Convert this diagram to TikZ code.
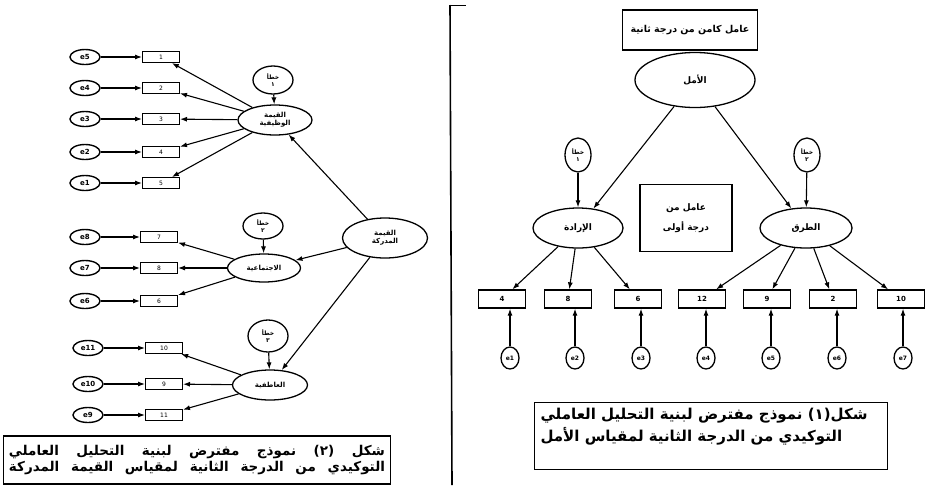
\documentclass[tikz,border=0pt]{standalone}
\usepackage{fontspec}
\setmainfont{DejaVu Sans}
\newfontfamily\arabicfont[Script=Arabic]{DejaVu Sans}
\TeXXeTstate=1
\usetikzlibrary{arrows.meta,shapes.geometric}

\newcommand{\artxt}[1]{{\arabicfont\bfseries\beginR #1\endR}}

\begin{document}
\begin{tikzpicture}[x=1pt,y=-1pt,
  err/.style={ellipse,draw,line width=1.4pt,minimum width=30pt,minimum height=15pt,inner sep=0pt,font=\bfseries\fontsize{7}{7}\selectfont},
  item/.style={rectangle,draw,line width=1pt,minimum width=37pt,minimum height=11pt,inner sep=0pt,font=\fontsize{6}{6}\selectfont},
  factor/.style={ellipse,draw,line width=1.3pt,minimum width=74pt,minimum height=30pt,inner sep=0pt,align=center,font=\fontsize{7}{8}\selectfont},
  dist/.style={ellipse,draw,line width=1.3pt,minimum width=40pt,minimum height=28pt,inner sep=0pt,align=center,font=\fontsize{6}{7}\selectfont},
  ritem/.style={rectangle,draw,line width=1.3pt,minimum width=47pt,minimum height=18pt,inner sep=0pt,font=\bfseries\fontsize{7}{7}\selectfont},
  rerr/.style={ellipse,draw,line width=1.3pt,minimum width=18pt,minimum height=22pt,inner sep=0pt,font=\bfseries\fontsize{6}{6}\selectfont},
  capbox/.style={rectangle,draw,line width=1.3pt,inner sep=0pt},
  link/.style={line width=1.1pt,-{Latex[length=7pt,width=5pt]}}]
 \useasboundingbox (0,0) rectangle (936,485);
 %left model, first factor
 \node[err] (e5) at (85,57) {e5};
 \node[err] (e4) at (85,88) {e4};
 \node[err] (e3) at (85,119) {e3};
 \node[err] (e2) at (85,152) {e2};
 \node[err] (e1) at (85,183) {e1};
 \node[item] (i1) at (161,57) {1};
 \node[item] (i2) at (161,88) {2};
 \node[item] (i3) at (161,119) {3};
 \node[item] (i4) at (161,152) {4};
 \node[item] (i5) at (161,183) {5};
 \node[factor] (F1) at (275,120) {\artxt{القيمة}\\\artxt{الوظيفية}};
 \node[dist] (d1) at (273,80) {\artxt{خطأ}\\\artxt{١}};
 \draw[link](e5) -- (i1);
 \draw[link](e4) -- (i2);
 \draw[link](e3) -- (i3);
 \draw[link](e2) -- (i4);
 \draw[link](e1) -- (i5);
 \draw[link](F1) -- (i1);
 \draw[link](F1) -- (i2);
 \draw[link](F1) -- (i3);
 \draw[link](F1) -- (i4);
 \draw[link](F1) -- (i5);
 \draw[link](d1) -- (F1);
 %left model, second factor
 \node[err] (e8) at (85,237) {e8};
 \node[err] (e7) at (85,268) {e7};
 \node[err] (e6) at (85,301) {e6};
 \node[item] (i7) at (159,237) {7};
 \node[item] (i8) at (159,268) {8};
 \node[item] (i6) at (159,301) {6};
 \node[factor,minimum width=73pt,minimum height=28pt] (F2) at (264,268) {\artxt{الاجتماعية}};
 \node[dist,minimum height=26pt] (d2) at (263,226) {\artxt{خطأ}\\\artxt{٢}};
 \draw[link](e8) -- (i7);
 \draw[link](e7) -- (i8);
 \draw[link](e6) -- (i6);
 \draw[link](F2) -- (i7);
 \draw[link](F2) -- (i8);
 \draw[link](F2) -- (i6);
 \draw[link](d2) -- (F2);
 %left model, third factor
 \node[err] (e11) at (88,348) {e11};
 \node[err] (e10) at (88,384) {e10};
 \node[err] (e9) at (88,415) {e9};
 \node[item] (i10) at (164,348) {10};
 \node[item] (i9) at (164,384) {9};
 \node[item] (i11) at (164,415) {11};
 \node[factor,minimum width=75pt] (F3) at (270,385) {\artxt{العاطفية}};
 \node[dist,minimum height=32pt] (d3) at (268,336) {\artxt{خطأ}\\\artxt{٣}};
 \draw[link](e11) -- (i10);
 \draw[link](e10) -- (i9);
 \draw[link](e9) -- (i11);
 \draw[link](F3) -- (i10);
 \draw[link](F3) -- (i9);
 \draw[link](F3) -- (i11);
 \draw[link](d3) -- (F3);
 %left model, second order
 \node[factor,minimum width=85pt,minimum height=40pt] (V) at (385,238) {\artxt{القيمة}\\\artxt{المدركة}};
 \draw[link](V) -- (F1);
 \draw[link](V) -- (F2);
 \draw[link](V) -- (F3);
 \node[capbox,minimum width=387pt,minimum height=48pt] (cap2) at (197,460) {};
 \node[align=center,font=\fontsize{13.5}{16}\selectfont] (cap2txt) at (cap2) {\makebox[376pt][s]{\artxt{شكل (٢) نموذج مفترض لبنية التحليل العاملي}}\\\makebox[376pt][s]{\artxt{التوكيدي من الدرجة الثانية لمقياس القيمة المدركة}}};
 %divider
 \draw[line width=1.6pt](450,5) -- (452,485);
 \draw[line width=0.8pt](450,5) -- (466,5);
 %right model, second order
 \node[capbox,minimum width=135pt,minimum height=40pt,font=\fontsize{9.5}{9.5}\selectfont] (t2) at (690,30) {\artxt{عامل كامن من درجة ثانية}};
 \node[factor,minimum width=120pt,minimum height=55pt,font=\fontsize{9}{9}\selectfont] (G) at (695,80) {\artxt{الأمل}};
 \node[factor,minimum width=90pt,minimum height=40pt,font=\fontsize{9}{9}\selectfont] (F4) at (578,228) {\artxt{الإرادة}};
 \node[factor,minimum width=92pt,minimum height=40pt,font=\fontsize{9}{9}\selectfont] (F5) at (806,228) {\artxt{الطرق}};
 \node[dist,minimum width=26pt,minimum height=34pt] (d4) at (578,155) {\artxt{خطأ}\\\artxt{١}};
 \node[dist,minimum width=26pt,minimum height=34pt] (d5) at (807,155) {\artxt{خطأ}\\\artxt{٢}};
 \node[capbox,minimum width=92pt,minimum height=67pt,align=center,font=\fontsize{9}{20}\selectfont] (m1) at (686,218) {\artxt{عامل من}\\\artxt{درجة أولى}};
 \draw[link](G) -- (F4);
 \draw[link](G) -- (F5);
 \draw[link](d4) -- (F4);
 \draw[link](d5) -- (F5);
 %right model, items
 \node[ritem] (j1) at (502,299) {4};
 \node[ritem] (j2) at (568,299) {8};
 \node[ritem] (j3) at (638,299) {6};
 \node[ritem] (j4) at (702,299) {12};
 \node[ritem] (j5) at (767,299) {9};
 \node[ritem] (j6) at (833,299) {2};
 \node[ritem] (j7) at (901,299) {10};
 \node[rerr] (u1) at (510,358) {e1};
 \node[rerr] (u2) at (575,358) {e2};
 \node[rerr] (u3) at (641,358) {e3};
 \node[rerr] (u4) at (706,358) {e4};
 \node[rerr] (u5) at (771,358) {e5};
 \node[rerr] (u6) at (837,358) {e6};
 \node[rerr] (u7) at (903,358) {e7};
 \draw[link](F4) -- (j1);
 \draw[link](F4) -- (j2);
 \draw[link](F4) -- (j3);
 \draw[link](F5) -- (j4);
 \draw[link](F5) -- (j5);
 \draw[link](F5) -- (j6);
 \draw[link](F5) -- (j7);
 \draw[link](u1) -- (u1 |- j1.south);
 \draw[link](u2) -- (u2 |- j2.south);
 \draw[link](u3) -- (u3 |- j3.south);
 \draw[link](u4) -- (u4 |- j4.south);
 \draw[link](u5) -- (u5 |- j5.south);
 \draw[link](u6) -- (u6 |- j6.south);
 \draw[link](u7) -- (u7 |- j7.south);
 \node[capbox,minimum width=353pt,minimum height=67pt] (cap1) at (711,436) {};
 \node[anchor=north west,align=left,font=\fontsize{15}{22}\selectfont] (cap1txt) at (537,405) {\artxt{شكل(١) نموذج مفترض لبنية التحليل العاملي}\\\artxt{التوكيدي من الدرجة الثانية لمقياس الأمل}};
\end{tikzpicture}
\end{document}
